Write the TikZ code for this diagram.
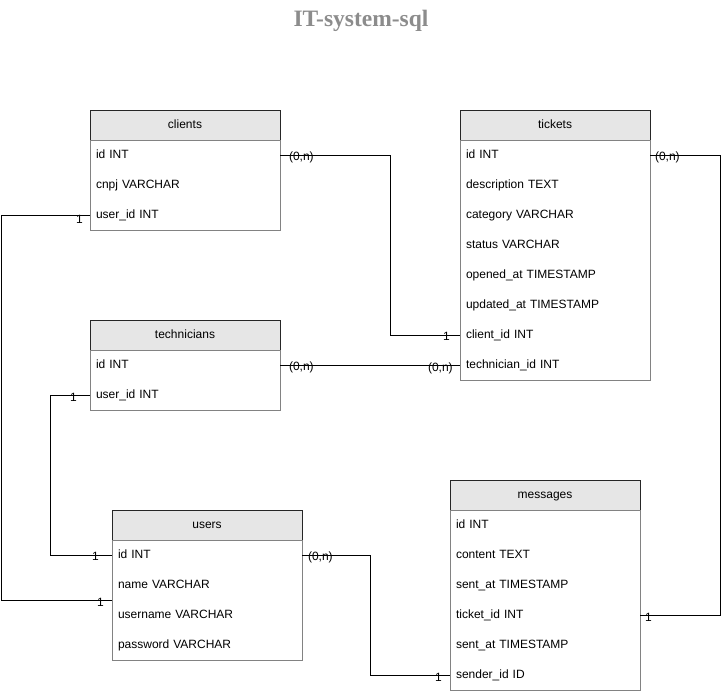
\documentclass[tikz,border=0pt]{standalone}
\usepackage{fontspec}
\setmainfont{Liberation Sans}
\newfontfamily\titlefont{Liberation Serif}
\definecolor{hdrfill}{RGB}{230,230,230}
\definecolor{boxline}{RGB}{130,130,130}
\definecolor{titlegray}{RGB}{140,140,140}
\begin{document}
\begin{tikzpicture}[x=1pt,y=-1pt,
  every node/.style={outer sep=0pt},
  txt/.style={font=\fontsize{12}{14}\selectfont},
  hdr/.style={txt, draw=black!85, fill=hdrfill, minimum width=190pt, minimum height=30pt, inner sep=0pt, text height=9.4pt, text depth=1.8pt, anchor=north west, line width=0.8pt},
  row/.style={txt, minimum height=30pt, text width=178pt, inner xsep=6pt, inner ysep=0pt, text height=9.4pt, text depth=1.8pt, align=left, anchor=north west},
  body/.style={draw=boxline, line width=0.8pt},
  conn/.style={draw=black, line width=0.9pt},
  lbl/.style={txt, inner sep=0pt, anchor=west}]
\useasboundingbox (0,0) rectangle (722,691);
\fill[white] (0,0) rectangle (722,691);

% title
\node[font=\titlefont\bfseries\fontsize{23.5}{26}\selectfont, text=titlegray] (title) at (361,21) {IT-system-sql};

% clients
\node[hdr] (c) at (90,110) {clients};
\node[row] (c-id) at (90,140) {id INT};
\node[row] (c-cnpj) at (90,170) {cnpj VARCHAR};
\node[row] (c-user) at (90,200) {user\_id INT};
\draw[body] (c-id.north west) rectangle (c-user.south east);

% tickets
\node[hdr] (t) at (460,110) {tickets};
\node[row] (t-id) at (460,140) {id INT};
\node[row] (t-desc) at (460,170) {description TEXT};
\node[row] (t-cat) at (460,200) {category VARCHAR};
\node[row] (t-status) at (460,230) {status VARCHAR};
\node[row] (t-open) at (460,260) {opened\_at TIMESTAMP};
\node[row] (t-upd) at (460,290) {updated\_at TIMESTAMP};
\node[row] (t-client) at (460,320) {client\_id INT};
\node[row] (t-tech) at (460,350) {technician\_id INT};
\draw[body] (t-id.north west) rectangle (t-tech.south east);

% technicians
\node[hdr] (te) at (90,320) {technicians};
\node[row] (te-id) at (90,350) {id INT};
\node[row] (te-user) at (90,380) {user\_id INT};
\draw[body] (te-id.north west) rectangle (te-user.south east);

% users
\node[hdr] (u) at (112,510) {users};
\node[row] (u-id) at (112,540) {id INT};
\node[row] (u-name) at (112,570) {name VARCHAR};
\node[row] (u-uname) at (112,600) {username VARCHAR};
\node[row] (u-pass) at (112,630) {password VARCHAR};
\draw[body] (u-id.north west) rectangle (u-pass.south east);

% messages
\node[hdr] (m) at (450,480) {messages};
\node[row] (m-id) at (450,510) {id INT};
\node[row] (m-content) at (450,540) {content TEXT};
\node[row] (m-sent) at (450,570) {sent\_at TIMESTAMP};
\node[row] (m-ticket) at (450,600) {ticket\_id INT};
\node[row] (m-sent2) at (450,630) {sent\_at TIMESTAMP};
\node[row] (m-sender) at (450,660) {sender\_id ID};
\draw[body] (m-id.north west) rectangle (m-sender.south east);

% bend coordinates
\coordinate (b1) at (390,155);
\coordinate (b2) at (720,155);
\coordinate (b3) at (1,215);
\coordinate (b4) at (50,395);
\coordinate (b5) at (370,555);

% connectors
\draw[conn] (c-id.east) -- (b1) |- (t-client.west);
\draw[conn] (te-id.east) -- (t-tech.west);
\draw[conn] (t-id.east) -- (b2) |- (m-ticket.east);
\draw[conn] (c-user.west) -- (b3) |- (u-name.south west);
\draw[conn] (te-user.west) -- (b4) |- (u-id.west);
\draw[conn] (u-id.east) -- (b5) |- (m-sender.west);

% cardinality labels
\node[lbl] (l1) at (289,157) {(0,n)};
\node[lbl] (l2) at (443,336) {1};
\node[lbl] (l3) at (289,367) {(0,n)};
\node[lbl] (l4) at (428,368) {(0,n)};
\node[lbl] (l5) at (655,157) {(0,n)};
\node[lbl] (l6) at (645,617) {1};
\node[lbl] (l7) at (76,219) {1};
\node[lbl] (l8) at (97,602) {1};
\node[lbl] (l9) at (70,397) {1};
\node[lbl] (l10) at (92,556) {1};
\node[lbl] (l11) at (308,557) {(0,n)};
\node[lbl] (l12) at (435,677) {1};
\end{tikzpicture}
\end{document}
